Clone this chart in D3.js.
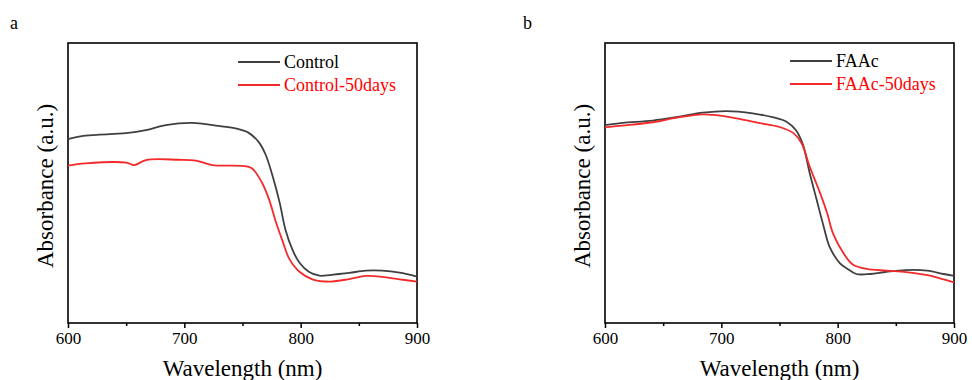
<!DOCTYPE html>
<html>
<head>
<meta charset="utf-8">
<script src="https://cdn.jsdelivr.net/npm/d3@7"></script>
<style>
  body { margin: 0; background: #fff; }
  svg { display: block; }
  text { font-family: "Liberation Serif", "Times New Roman", serif; }
</style>
</head>
<body>
<div id="chart"></div>
<script>
// wavelength (nm), absorbance (a.u.)
const control = [
    [600, 0.657], [615, 0.669], [650, 0.678], [667, 0.689], [684, 0.707], [707, 0.715],
    [727, 0.705], [744, 0.695], [755, 0.680], [764, 0.646], [770, 0.600], [776, 0.523],
    [782, 0.429], [787, 0.332], [793, 0.261], [799, 0.215], [807, 0.183], [816, 0.169],
    [833, 0.175], [842, 0.179], [856, 0.187], [870, 0.187], [885, 0.180], [900, 0.166]
];
const control50 = [
    [600, 0.562], [615, 0.570], [650, 0.573], [657, 0.564], [667, 0.582], [695, 0.583],
    [710, 0.580], [724, 0.564], [750, 0.561], [758, 0.553], [767, 0.499], [773, 0.439],
    [779, 0.357], [785, 0.286], [790, 0.231], [799, 0.183], [810, 0.156], [825, 0.148],
    [842, 0.157], [856, 0.168], [870, 0.165], [885, 0.156], [900, 0.148]
];
const faac = [
    [600, 0.707], [615, 0.715], [641, 0.723], [664, 0.737], [684, 0.751], [704, 0.757],
    [727, 0.749], [744, 0.735], [756, 0.719], [764, 0.689], [770, 0.639], [776, 0.535],
    [782, 0.439], [788, 0.344], [793, 0.273], [802, 0.213], [808, 0.195], [816, 0.175],
    [828, 0.175], [842, 0.183], [859, 0.189], [877, 0.187], [891, 0.175], [900, 0.168]
];
const faac50 = [
    [600, 0.699], [615, 0.705], [641, 0.717], [664, 0.735], [684, 0.745], [693, 0.743],
    [713, 0.731], [733, 0.714], [750, 0.700], [762, 0.678], [769, 0.642], [776, 0.558],
    [785, 0.463], [791, 0.392], [796, 0.320], [805, 0.249], [813, 0.209], [825, 0.193],
    [842, 0.187], [859, 0.182], [877, 0.171], [891, 0.156], [900, 0.145]
];

const xTicks = [600, 700, 800, 900];
const xMinor = [650, 750, 850];
const panelLetters = ["a", "b"];
const legendA = ["Control", "Control-50days"];
const legendB = ["FAAc", "FAAc-50days"];
const colors = ["#404040", "#f42a2a"];

const W = 972, H = 380;
const plotTop = 43, plotBottom = 323;

const svg = d3.select("#chart").append("svg")
    .attr("width", W)
    .attr("height", H);

const y = d3.scaleLinear().domain([0, 1]).range([plotBottom, plotTop]);

const drawPanel = (left, right, letter, letterX, series, labels, legX, legY) => {
    const g = svg.append("g");
    const x = d3.scaleLinear().domain([600, 900]).range([left, right]);

    g.append("text")
        .attr("x", letterX)
        .attr("y", 29)
        .attr("font-size", 18)
        .text(letter);

    // frame
    g.append("rect")
        .attr("x", left).attr("y", plotTop)
        .attr("width", right - left).attr("height", plotBottom - plotTop)
        .attr("fill", "none")
        .attr("stroke", "#000")
        .attr("stroke-width", 1.6);

    // major and minor ticks, pointing out
    g.append("g")
        .attr("transform", `translate(0,${plotBottom})`)
        .call(d3.axisBottom(x).tickValues(xMinor).tickSize(3).tickFormat(""))
        .call(a => a.select(".domain").remove())
        .call(a => a.selectAll("line").attr("stroke-width", 1.5));
    const ax = g.append("g")
        .attr("transform", `translate(0,${plotBottom})`)
        .call(d3.axisBottom(x).tickValues(xTicks).tickSize(5).tickPadding(4).tickFormat(d3.format("d")));
    ax.select(".domain").remove();
    ax.selectAll("line").attr("stroke-width", 1.5);
    ax.selectAll("text")
        .style("font-family", "'Liberation Serif', serif")
        .attr("font-size", 17)
        .attr("fill", "#000");

    g.append("text")
        .attr("x", (left + right) / 2)
        .attr("y", 376)
        .attr("text-anchor", "middle")
        .attr("font-size", 23)
        .text("Wavelength (nm)");

    g.append("text")
        .attr("transform", `translate(${left - 15},${(plotTop + plotBottom) / 2 + 3}) rotate(-90)`)
        .attr("text-anchor", "middle")
        .attr("font-size", 23)
        .text("Absorbance (a.u.)");

    const line = d3.line()
        .x(d => x(d[0]))
        .y(d => y(d[1]))
        .curve(d3.curveCatmullRom.alpha(0.5));

    series.forEach((s, i) => {
        g.append("path")
            .attr("d", line(s))
            .attr("fill", "none")
            .attr("stroke", colors[i])
            .attr("stroke-width", 1.8);
    });

    // legend
    labels.forEach((lab, i) => {
        const ly = legY + i * 23;
        g.append("line")
            .attr("x1", legX).attr("x2", legX + 42)
            .attr("y1", ly).attr("y2", ly)
            .attr("stroke", colors[i])
            .attr("stroke-width", 1.8);
        g.append("text")
            .attr("x", legX + 46)
            .attr("y", ly + 6)
            .attr("font-size", 18)
            .attr("fill", i === 0 ? "#000" : "#f00")
            .text(lab);
    });
};

drawPanel(68, 417, panelLetters[0], 10, [control, control50], legendA, 238, 62);
drawPanel(605, 954, panelLetters[1], 523, [faac, faac50], legendB, 790, 61);
</script>
</body>
</html>
